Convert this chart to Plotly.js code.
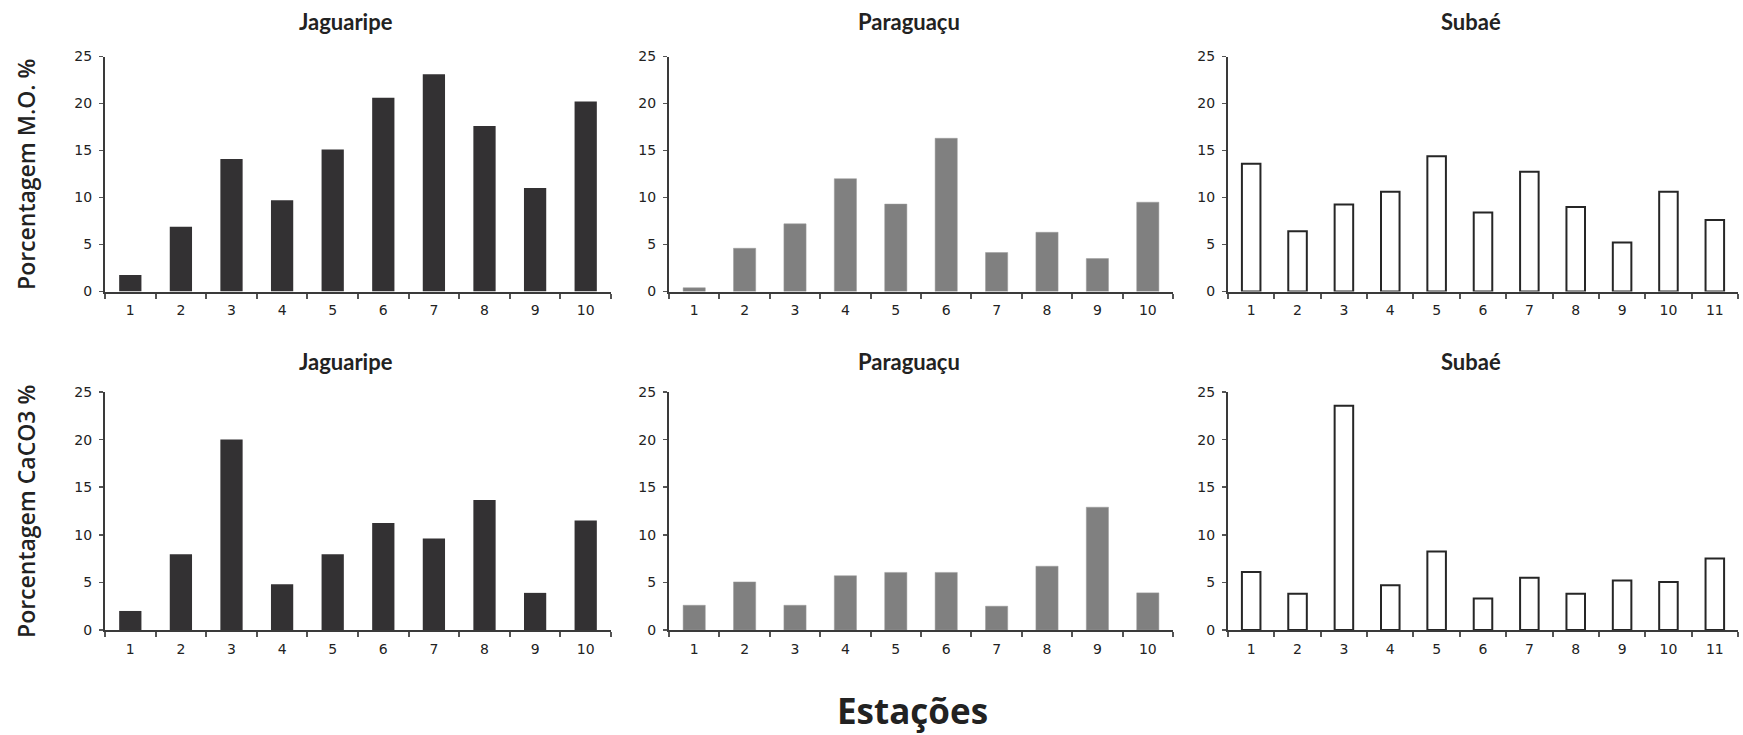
<!DOCTYPE html>
<html>
<head>
<meta charset="utf-8">
<script src="https://cdn.plot.ly/plotly-3.0.1.min.js"></script>
<style>
  html, body { margin: 0; padding: 0; background: #ffffff; }
  #chart { width: 1743px; height: 735px; }
</style>
</head>
<body>
<div id="chart"></div>
<script>
// Stations along each estuary
const stations10 = ['1', '2', '3', '4', '5', '6', '7', '8', '9', '10'];
const stations11 = ['1', '2', '3', '4', '5', '6', '7', '8', '9', '10', '11'];

// Organic matter (M.O.) percentage
const moJaguaripe = [1.75, 6.9, 14.1, 9.7, 15.1, 20.6, 23.1, 17.6, 11.0, 20.2];
const moParaguacu = [0.4, 4.6, 7.2, 12.0, 9.3, 16.3, 4.15, 6.3, 3.5, 9.5];
const moSubae = [13.6, 6.4, 9.25, 10.6, 14.4, 8.4, 12.75, 9.0, 5.2, 10.6, 7.6];

// Calcium carbonate (CaCO3) percentage
const caJaguaripe = [2.0, 7.95, 20.0, 4.8, 7.95, 11.25, 9.6, 13.65, 3.9, 11.5];
const caParaguacu = [2.6, 5.05, 2.6, 5.7, 6.05, 6.05, 2.5, 6.7, 12.9, 3.9];
const caSubae = [6.1, 3.8, 23.55, 4.7, 8.25, 3.3, 5.5, 3.8, 5.2, 5.05, 7.5];

const titles = ['Jaguaripe', 'Paraguaçu', 'Subaé'];
const yTitles = ['Porcentagem M.O. %', 'Porcentagem CaCO3 %'];
const xTitle = 'Estações';

const W = 1743, H = 735;
const colX = [[105, 611], [669, 1173], [1228, 1738]];
const rowY = [[56.5, 291.5], [392, 630]];

const dark = '#333133', grey = '#808080', axisCol = '#3a3a3a', textCol = '#222222';
const tickFont = { family: 'DejaVu Sans, Verdana, sans-serif', size: 14, color: textCol };

const panels = [
  { x: stations10, y: moJaguaripe, style: 'dark' },
  { x: stations10, y: moParaguacu, style: 'grey' },
  { x: stations11, y: moSubae, style: 'open' },
  { x: stations10, y: caJaguaripe, style: 'dark' },
  { x: stations10, y: caParaguacu, style: 'grey' },
  { x: stations11, y: caSubae, style: 'open' }
];

const data = [];
const layout = {
  width: W, height: H,
  margin: { l: 0, r: 0, t: 0, b: 0 },
  paper_bgcolor: '#ffffff', plot_bgcolor: '#ffffff',
  showlegend: false,
  annotations: []
};

panels.forEach((p, i) => {
  const row = Math.floor(i / 3), col = i % 3;
  const n = i + 1;
  const xa = 'x' + (n === 1 ? '' : n), ya = 'y' + (n === 1 ? '' : n);
  const marker = p.style === 'dark'
    ? { color: dark, line: { width: 0 } }
    : p.style === 'grey'
      ? { color: grey, line: { color: '#9a9a9a', width: 0.5 } }
      : { color: '#ffffff', line: { color: '#262626', width: 2 } };
  data.push({
    type: 'bar', x: p.x, y: p.y, xaxis: xa, yaxis: ya,
    marker: marker, hoverinfo: 'x+y', width: p.style === 'open' ? 0.4 : 0.44
  });
  const xd = colX[col], yd = rowY[row];
  layout['xaxis' + (n === 1 ? '' : n)] = {
    domain: [xd[0] / W, xd[1] / W], anchor: ya,
    type: 'category', range: [-0.5, p.x.length - 0.5],
    showline: true, linecolor: axisCol, linewidth: 2,
    ticks: 'outside', tickson: 'boundaries', ticklen: 5, tickwidth: 2, tickcolor: '#555',
    showgrid: false, zeroline: false, tickfont: tickFont, ticklabelstandoff: 5,
    fixedrange: true
  };
  layout['yaxis' + (n === 1 ? '' : n)] = {
    domain: [1 - yd[1] / H, 1 - yd[0] / H], anchor: xa,
    range: [0, 25], tickvals: [0, 5, 10, 15, 20, 25],
    showline: true, linecolor: axisCol, linewidth: 2,
    ticks: 'outside', ticklen: 4, tickwidth: 1.5, tickcolor: '#555',
    showgrid: false, zeroline: false, tickfont: tickFont, ticklabelstandoff: 4,
    fixedrange: true
  };
  // Panel titles sit slightly left of the plot centre
  layout.annotations.push({
    text: titles[col], xref: 'paper', yref: 'paper',
    x: ((xd[0] + xd[1]) / 2 - 12) / W, y: 1 - (row === 0 ? 22 : 361) / H,
    xanchor: 'center', yanchor: 'middle', showarrow: false,
    font: { family: 'Lato, Open Sans, sans-serif', size: 22, color: textCol, weight: 700 }
  });
});

yTitles.forEach((t, r) => {
  layout.annotations.push({
    text: t, xref: 'paper', yref: 'paper',
    x: 26 / W, y: 1 - ((rowY[r][0] + rowY[r][1]) / 2 + 1) / H,
    xanchor: 'center', yanchor: 'middle', textangle: -90, showarrow: false,
    font: { family: 'Open Sans, sans-serif', size: 23, color: textCol, weight: 600 }
  });
});

layout.annotations.push({
  text: xTitle, xref: 'paper', yref: 'paper',
  x: 912 / W, y: 1 - 710 / H, xanchor: 'center', yanchor: 'middle', showarrow: false,
  font: { family: 'Open Sans, sans-serif', size: 35, color: textCol, weight: 700 }
});

Plotly.newPlot('chart', data, layout, { displayModeBar: false, staticPlot: true });
</script>
</body>
</html>
